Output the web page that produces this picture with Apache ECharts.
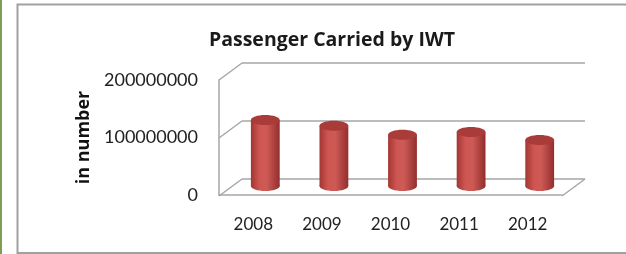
<!DOCTYPE html>
<html>
<head>
<meta charset="utf-8">
<script src="https://cdn.jsdelivr.net/npm/echarts@6/dist/echarts.min.js"></script>
<style>
html, body { margin: 0; padding: 0; background: #fff; }
#main { width: 626px; height: 254px; }
</style>
</head>
<body>
<div id="main"></div>
<script>
var years = ['2008', '2009', '2010', '2011', '2012'];
var passengers = [115000000, 105000000, 89000000, 94000000, 80000000];
var yTicks = [0, 100000000, 200000000];

// three planes of the fake 3D box: front (axes), middle (bars), back (walls)
var front = { left: 219, top: 80, width: 343, height: 115 };
var mid = { left: 231, top: 71, width: 343, height: 115 };
var back = { left: 242, top: 63, width: 343, height: 116 };
var DX = back.left - front.left;
var DY = front.top - back.top;
var lineColor = '#a6a6a6';
var font = 'Lato, "Open Sans", sans-serif';
var boldFont = '"Open Sans", Lato, sans-serif';

var chart = echarts.init(document.getElementById('main'));

function wallItem(params, api) {
  var v = api.value(1);
  var p = api.coord([0, v]);
  var kids = [{
    type: 'line',
    shape: { x1: p[0], y1: p[1], x2: p[0] - DX, y2: p[1] + DY },
    style: { stroke: lineColor, lineWidth: 1.5 }
  }];
  if (v === 0) {
    var q = api.coord([1, 0]);
    kids.push({
      type: 'line',
      shape: { x1: q[0], y1: q[1], x2: q[0] - DX, y2: q[1] + DY },
      style: { stroke: lineColor, lineWidth: 1.5 }
    });
  }
  return { type: 'group', children: kids };
}

function barItem(params, api) {
  var top = api.coord([api.value(0), api.value(1)]);
  var base = api.coord([api.value(0), 0]);
  var w = api.size([1, 0])[0] * 0.42;
  var rx = w / 2, ry = 5;
  var body = new echarts.graphic.LinearGradient(0, 0, 1, 0, [
    { offset: 0, color: '#a23633' },
    { offset: 0.3, color: '#cf5652' },
    { offset: 0.55, color: '#cd5a56' },
    { offset: 1, color: '#932e2c' }
  ]);
  return {
    type: 'group',
    children: [
      { type: 'ellipse', shape: { cx: top[0], cy: base[1], rx: rx, ry: ry }, style: { fill: body } },
      { type: 'rect', shape: { x: top[0] - rx, y: top[1], width: w, height: base[1] - top[1] }, style: { fill: body } },
      { type: 'ellipse', shape: { cx: top[0], cy: top[1], rx: rx, ry: ry }, style: { fill: '#a93b38' } }
    ]
  };
}

chart.setOption({
  animation: false,
  title: {
    text: 'Passenger Carried by IWT',
    left: 327, top: 25, textAlign: 'center',
    textStyle: { fontFamily: boldFont, fontSize: 19.5, fontWeight: 'bold', color: '#1a1a1a' }
  },
  graphic: [
    { type: 'rect', shape: { x: 0, y: 0, width: 2, height: 254 }, style: { fill: '#7f9c55' } },
    { type: 'rect', shape: { x: 17.5, y: 4.5, width: 640, height: 248.5 }, style: { fill: 'none', stroke: '#a0a0a0', lineWidth: 2 } }
  ],
  grid: [front, mid, back],
  xAxis: [
    {
      type: 'category', gridIndex: 0, data: years,
      axisLine: { lineStyle: { color: lineColor, width: 1.5 } },
      axisTick: { show: false },
      axisLabel: { fontFamily: font, fontSize: 17, color: '#222', margin: 21 }
    },
    { type: 'category', gridIndex: 1, data: years, show: false },
    { type: 'value', gridIndex: 2, min: 0, max: 1, show: false }
  ],
  yAxis: [
    {
      type: 'value', gridIndex: 0, min: 0, max: 200000000, interval: 100000000,
      axisLine: { show: true, lineStyle: { color: lineColor, width: 1.5 } },
      axisTick: { show: false },
      splitLine: { show: false },
      axisLabel: {
        fontFamily: font, fontSize: 18, color: '#222', margin: 21,
        formatter: function (v) { return String(v); }
      },
      name: 'in number', nameLocation: 'middle', nameGap: 125,
      nameTextStyle: { fontFamily: boldFont, fontSize: 18, fontWeight: 'bold', color: '#111' }
    },
    { type: 'value', gridIndex: 1, min: 0, max: 200000000, interval: 100000000, show: false },
    {
      type: 'value', gridIndex: 2, min: 0, max: 200000000, interval: 100000000,
      axisLine: { show: false }, axisTick: { show: false }, axisLabel: { show: false },
      splitLine: { show: true, lineStyle: { color: lineColor, width: 1.5 } }
    }
  ],
  series: [
    {
      type: 'custom', name: 'walls', xAxisIndex: 2, yAxisIndex: 2,
      data: yTicks.map(function (v) { return [0, v]; }),
      renderItem: wallItem, silent: true
    },
    {
      type: 'custom', name: 'Passengers', xAxisIndex: 1, yAxisIndex: 1,
      data: passengers.map(function (v, i) { return [i, v]; }),
      renderItem: barItem
    }
  ]
});
</script>
</body>
</html>
